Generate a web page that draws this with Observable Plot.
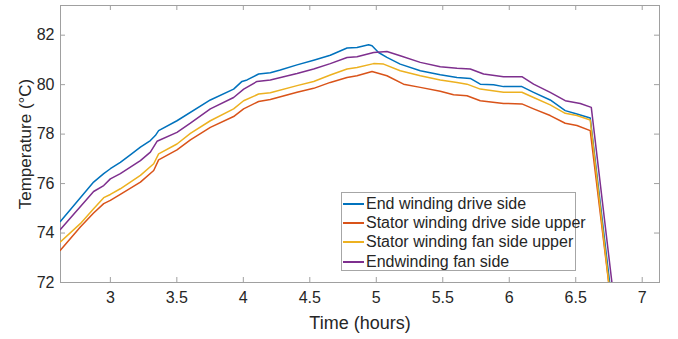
<!DOCTYPE html>
<html><head><meta charset="utf-8">
<script src="https://cdn.jsdelivr.net/npm/d3@7"></script>
<script src="https://cdn.jsdelivr.net/npm/@observablehq/plot@0.6"></script>
<style>
body{margin:0;background:#fff;}
#wrap{position:relative;width:678px;height:339px;font-family:"Liberation Sans",Arial,sans-serif;}
#legend{position:absolute;left:341px;top:192px;width:235px;height:79px;border:1px solid #a6a6a6;background:#fff;box-sizing:border-box;padding-top:1px;}
.row{display:flex;align-items:center;height:19.4px;font-size:16px;color:#262626;white-space:nowrap;}
.sw{width:21px;height:0;border-top:2px solid;margin-left:1px;margin-right:2px;flex:none;}
g[aria-label="x-axis label"]{font-size:18px;}
g[aria-label="y-axis label"]{font-size:17px;}
g[aria-label="x-axis tick label"], g[aria-label="y-axis tick label"]{font-size:16px;}
</style></head>
<body><div id="wrap"></div>
<script>
const seriesNames = ["End winding drive side","Stator winding drive side upper","Stator winding fan side upper","Endwinding fan side"];
const seriesColors = ["#0072BD","#D95319","#EDB120","#7E2F8E"];
const xTicks = [3,3.5,4,4.5,5,5.5,6,6.5,7];
const yTicks = [72,74,76,78,80,82];

const blueX = [2.624,2.874,2.950,3.0,3.075,3.150,3.226,3.301,3.338,3.363,3.501,3.752,3.927,3.990,4.028,4.115,4.203,4.278,4.404,4.529,4.654,4.780,4.855,4.942,4.968,5.017,5.080,5.180,5.331,5.481,5.607,5.707,5.782,5.882,5.957,6.095,6.183,6.308,6.421,6.509,6.609,6.766];
const blueY = [74.47,76.06,76.40,76.60,76.86,77.16,77.47,77.74,77.94,78.14,78.54,79.38,79.82,80.13,80.19,80.43,80.48,80.59,80.80,80.99,81.19,81.48,81.50,81.61,81.57,81.30,81.10,80.83,80.56,80.40,80.29,80.25,80.02,80.00,79.92,79.92,79.69,79.38,78.95,78.81,78.65,71.5];

const redX = [2.624,2.774,2.874,2.950,3.0,3.075,3.226,3.326,3.363,3.501,3.602,3.752,3.927,4.002,4.115,4.203,4.404,4.529,4.654,4.780,4.855,4.968,5.080,5.205,5.331,5.481,5.581,5.682,5.782,5.957,6.095,6.183,6.308,6.421,6.509,6.609,6.759];
const redY = [73.30,74.24,74.81,75.19,75.32,75.56,76.06,76.53,76.96,77.36,77.77,78.27,78.71,79.02,79.32,79.40,79.69,79.85,80.09,80.29,80.36,80.53,80.36,80.02,79.89,79.73,79.59,79.55,79.35,79.24,79.22,79.02,78.75,78.44,78.35,78.14,71.5];

const yellowX = [2.624,2.774,2.874,2.950,3.0,3.075,3.226,3.326,3.363,3.501,3.602,3.752,3.927,4.002,4.115,4.203,4.404,4.529,4.654,4.780,4.855,4.980,5.055,5.180,5.331,5.481,5.607,5.682,5.782,5.957,6.095,6.183,6.308,6.421,6.509,6.609,6.759];
const yellowY = [73.64,74.38,74.98,75.43,75.56,75.79,76.33,76.80,77.20,77.60,78.03,78.54,79.02,79.35,79.62,79.67,79.96,80.13,80.39,80.63,80.69,80.85,80.83,80.56,80.36,80.19,80.09,80.02,79.82,79.69,79.69,79.48,79.18,78.84,78.75,78.57,71.5];

const purpleX = [2.624,2.874,2.950,3.0,3.075,3.226,3.301,3.351,3.501,3.602,3.752,3.927,4.003,4.103,4.203,4.404,4.529,4.654,4.780,4.855,4.980,5.080,5.180,5.331,5.481,5.607,5.707,5.807,5.957,6.095,6.183,6.308,6.421,6.534,6.617,6.783];
const purpleY = [74.14,75.68,75.92,76.19,76.40,76.93,77.27,77.71,78.07,78.44,79.02,79.48,79.82,80.13,80.19,80.45,80.63,80.85,81.10,81.13,81.30,81.34,81.17,80.90,80.72,80.66,80.63,80.43,80.32,80.32,80.02,79.69,79.35,79.24,79.08,71.5];

const allX = [blueX, redX, yellowX, purpleX];
const allY = [blueY, redY, yellowY, purpleY];

const W = 678, H = 339, mL = 60, mR = 19, mT = 5, mB = 57;
const innerW = W - mL - mR, innerH = H - mT - mB;
const tickLen = 5, axisGray = "#a0a0a0";

const lineMarks = allX.map((xs, i) => Plot.line(d3.zip(xs, allY[i]).map(([x, y]) => ({x, y})), {
  x: "x", y: "y", stroke: seriesColors[i], strokeWidth: 1.5, clip: true
}));

const chart = Plot.plot({
  width: W, height: H, marginLeft: mL, marginRight: mR, marginTop: mT, marginBottom: mB,
  style: {fontFamily: "Liberation Sans, Arial, sans-serif", color: "#262626", background: "#fff"},
  x: {domain: [2.625, 7.13]},
  y: {domain: [72, 83.2]},
  marks: [
    Plot.frame({stroke: axisGray}),
    Plot.tickX(xTicks, {x: d => d, stroke: axisGray, insetTop: innerH - tickLen}),
    Plot.tickX(xTicks, {x: d => d, stroke: axisGray, insetBottom: innerH - tickLen}),
    Plot.tickY(yTicks, {y: d => d, stroke: axisGray, insetRight: innerW - tickLen}),
    Plot.tickY(yTicks, {y: d => d, stroke: axisGray, insetLeft: innerW - tickLen}),
    Plot.axisX(xTicks, {tickSize: 0, tickPadding: 9, fontSize: 16, tickFormat: d => String(d), label: "Time (hours)", labelAnchor: "center", labelOffset: 46, labelArrow: "none"}),
    Plot.axisY(yTicks, {tickSize: 0, tickPadding: 6, fontSize: 16, tickFormat: d => String(d), label: "Temperature (°C)", labelAnchor: "center", labelOffset: 42, labelArrow: "none"}),
    ...lineMarks
  ]
});
const wrap = document.getElementById("wrap");
wrap.appendChild(chart);
const legend = document.createElement("div");
legend.id = "legend";
seriesNames.forEach((n, i) => {
  const row = document.createElement("div");
  row.className = "row";
  const sw = document.createElement("span");
  sw.className = "sw";
  sw.style.borderTopColor = seriesColors[i];
  const t = document.createElement("span");
  t.textContent = n;
  row.appendChild(sw); row.appendChild(t);
  legend.appendChild(row);
});
wrap.appendChild(legend);
</script></body></html>
